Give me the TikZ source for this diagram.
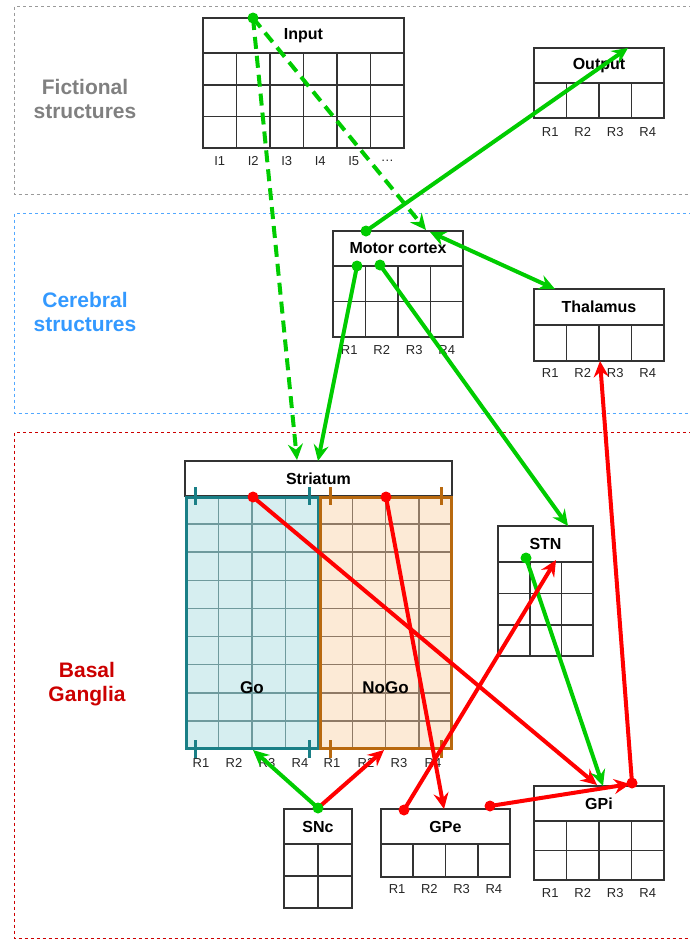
\documentclass[tikz,border=0pt]{standalone}
\usepackage{fontspec}
\setmainfont{Liberation Sans}
\usetikzlibrary{arrows.meta}
\definecolor{fgreen}{HTML}{00CC00}
\definecolor{fred}{HTML}{FF0000}
\definecolor{lgray}{HTML}{808080}
\definecolor{lblue}{HTML}{3399FF}
\definecolor{lred}{HTML}{CC0000}
\definecolor{tline}{HTML}{333333}
\definecolor{gofill}{HTML}{D6EEF0}
\definecolor{goline}{HTML}{1A7F86}
\definecolor{gogrid}{HTML}{6F9A9D}
\definecolor{nogofill}{HTML}{FCEAD6}
\definecolor{nogoline}{HTML}{B8690F}
\definecolor{nogogrid}{HTML}{8F7A66}
\tikzset{
  hdr/.style={draw=tline, line width=1.6pt, inner sep=0pt, outer sep=0pt, font=\fontsize{16}{19}\selectfont\bfseries},
  tabline/.style={draw=tline, line width=1.6pt},
  lab/.style={inner sep=0pt, font=\fontsize{13}{15}\selectfont, text=black!85},
  framelab/.style={inner sep=0pt, align=center, font=\fontsize{21}{24}\selectfont\bfseries},
  tip/.tip={Stealth[length=16pt,width=15pt,inset=5.5pt]},
  conn/.style={line width=4pt, -tip},
  dconn/.style={conn, dash pattern=on 12pt off 7pt},
  dotg/.style={circle, fill=fgreen, inner sep=0pt, minimum size=11pt},
  dotr/.style={circle, fill=fred, inner sep=0pt, minimum size=11pt},
}
\begin{document}
\begin{tikzpicture}[x=1pt,y=-1pt]
\useasboundingbox (0,0) rectangle (689,940);
% frames
\draw[lgray!80, line width=1pt, dash pattern=on 3pt off 3pt] (14.5,6.5) rectangle (705,194.5);
\draw[lblue!85, line width=1pt, dash pattern=on 3pt off 3pt] (14.5,213.5) rectangle (705,413.5);
\draw[lred, line width=1pt, dash pattern=on 3pt off 3pt] (14.5,432.5) rectangle (705,938.5);
\node[framelab, text=lgray] (fict) at (85,99) {Fictional\\structures};
\node[framelab, text=lblue] (cereb) at (85,312) {Cerebral\\structures};
\node[framelab, text=lred] (basal) at (87,684) {Basal\\Ganglia};

% Input
\node[hdr, minimum width=201pt, minimum height=35pt] (input) at (303.5,35.5) {Input};
\draw[tabline] (203,53) rectangle (404,148);
\foreach \xx in {236.5,270,303.5,337,370.5} \draw[tabline] (\xx,53) -- (\xx,148);
\foreach \yy in {84.7,116.3} \draw[tabline] (203,\yy) -- (404,\yy);
\foreach \xx [count=\i] in {219.75,253.25,286.75,320.25,353.75}
  \node[lab] (inl\i) at (\xx,161) {I\i};
\node[lab] (inl6) at (387.25,161) {\ldots};

% Output
\node[hdr, minimum width=130pt, minimum height=35pt] (output) at (599,65.5) {Output};
\draw[tabline] (534,83) rectangle (664,118);
\foreach \xx in {566.5,599,631.5} \draw[tabline] (\xx,83) -- (\xx,118);
\foreach \xx [count=\i] in {550.25,582.75,615.25,647.75} \node[lab] (outl\i) at (\xx,132) {R\i};

% Motor cortex
\node[hdr, minimum width=130pt, minimum height=35pt] (motor) at (398,248.5) {Motor cortex};
\draw[tabline] (333,266) rectangle (463,337);
\foreach \xx in {365.5,398,430.5} \draw[tabline] (\xx,266) -- (\xx,337);
\draw[tabline] (333,301.5) -- (463,301.5);
\foreach \xx [count=\i] in {349.25,381.75,414.25,446.75} \node[lab] (mcl\i) at (\xx,350) {R\i};

% Thalamus
\node[hdr, minimum width=130pt, minimum height=36pt] (thal) at (599,307) {Thalamus};
\draw[tabline] (534,325) rectangle (664,361);
\foreach \xx in {566.5,599,631.5} \draw[tabline] (\xx,325) -- (\xx,361);
\foreach \xx [count=\i] in {550.25,582.75,615.25,647.75} \node[lab] (thl\i) at (\xx,373) {R\i};

% Striatum
\node[hdr, minimum width=267pt, minimum height=35pt] (striatum) at (318.5,478.5) {Striatum};
\fill[gofill] (185,496) rectangle (319,749);
\fill[nogofill] (319,496) rectangle (452,749);
\foreach \k in {1,...,8} {
  \draw[gogrid, line width=1.5pt] (185,496+28.11*\k) -- (319,496+28.11*\k);
  \draw[nogogrid, line width=1.5pt] (319,496+28.11*\k) -- (452,496+28.11*\k);
}
\foreach \xx in {218.5,252,285.5} \draw[gogrid, line width=1.5pt] (\xx,496) -- (\xx,749);
\foreach \xx in {352.25,385.5,418.75} \draw[nogogrid, line width=1.5pt] (\xx,496) -- (\xx,749);
\draw[goline, line width=3pt] (186,497) rectangle (318,748);
\draw[nogoline, line width=3pt] (320,497) rectangle (451,748);
\foreach \xx in {195,309} {
  \draw[goline, line width=3pt] (\xx,487) -- (\xx,505);
  \draw[goline, line width=3pt] (\xx,740) -- (\xx,758);
}
\foreach \xx in {330,441} {
  \draw[nogoline, line width=3pt] (\xx,487) -- (\xx,505);
  \draw[nogoline, line width=3pt] (\xx,740) -- (\xx,758);
}
\node[inner sep=0pt, font=\fontsize{17}{20}\selectfont\bfseries] (go) at (252,688) {Go};
\node[inner sep=0pt, font=\fontsize{17}{20}\selectfont\bfseries] (nogo) at (385.5,688) {NoGo};
\foreach \xx [count=\i] in {201,234,267,300} \node[lab] (gol\i) at (\xx,763) {R\i};
\foreach \xx [count=\i] in {332,366,399,433} \node[lab] (nogol\i) at (\xx,763) {R\i};

% STN
\node[hdr, minimum width=95pt, minimum height=36pt] (stn) at (545.5,544) {STN};
\draw[tabline] (498,562) rectangle (593,656);
\foreach \xx in {529.7,561.3} \draw[tabline] (\xx,562) -- (\xx,656);
\foreach \yy in {593.3,624.7} \draw[tabline] (498,\yy) -- (593,\yy);

% SNc
\node[hdr, minimum width=68pt, minimum height=35pt] (snc) at (318,826.5) {SNc};
\draw[tabline] (284,844) rectangle (352,908);
\draw[tabline] (318,844) -- (318,908);
\draw[tabline] (284,876) -- (352,876);

% GPe
\node[hdr, minimum width=129pt, minimum height=35pt] (gpe) at (445.5,826.5) {GPe};
\draw[tabline] (381,844) rectangle (510,877);
\foreach \xx in {413.25,445.5,477.75} \draw[tabline] (\xx,844) -- (\xx,877);
\foreach \xx [count=\i] in {397.1,429.4,461.6,493.9} \node[lab] (gpel\i) at (\xx,889) {R\i};

% GPi
\node[hdr, minimum width=130pt, minimum height=35pt] (gpi) at (599,803.5) {GPi};
\draw[tabline] (534,821) rectangle (664,880);
\foreach \xx in {566.5,599,631.5} \draw[tabline] (\xx,821) -- (\xx,880);
\draw[tabline] (534,850.5) -- (664,850.5);
\foreach \xx [count=\i] in {550.25,582.75,615.25,647.75} \node[lab] (gpil\i) at (\xx,893) {R\i};

% connection points
\coordinate (inA) at (253,18);
\coordinate (striIn1) at (297,460);
\coordinate (striIn2) at (318,461);
\coordinate (mcIn) at (426,230);
\coordinate (mcOut) at (366,231);
\coordinate (outIn) at (628,48);
\coordinate (mcR1) at (357,266);
\coordinate (mcR2) at (380,265);
\coordinate (stnIn) at (568,526);
\coordinate (mcThA) at (430,232);
\coordinate (thIn) at (555,289);
\coordinate (goOut) at (253,497);
\coordinate (gpiIn1) at (597,785);
\coordinate (nogoOut) at (386,497);
\coordinate (gpeIn) at (444,809);
\coordinate (stnOut) at (526,558);
\coordinate (gpiIn2) at (603,786);
\coordinate (gpiOut) at (632,783);
\coordinate (thIn2) at (600,361);
\coordinate (gpeOut1) at (490,806);
\coordinate (gpiIn3) at (630,784);
\coordinate (gpeOut2) at (404,810);
\coordinate (stnIn2) at (556,560);
\coordinate (sncOut) at (318,808);
\coordinate (goIn) at (253,750);
\coordinate (nogoIn) at (384,750);

% connectors
\draw[dconn, fgreen] (inA) -- (striIn1);
\draw[dconn, fgreen] (inA) -- (mcIn);
\draw[conn, fgreen] (mcOut) -- (outIn);
\draw[conn, fgreen] (mcR1) -- (striIn2);
\draw[conn, fgreen] (mcR2) -- (stnIn);
\draw[conn, fgreen, tip-tip] (mcThA) -- (thIn);
\draw[conn, fred] (goOut) -- (gpiIn1);
\draw[conn, fred] (nogoOut) -- (gpeIn);
\draw[conn, fgreen] (stnOut) -- (gpiIn2);
\draw[conn, fred] (gpiOut) -- (thIn2);
\draw[conn, fred] (gpeOut1) -- (gpiIn3);
\draw[conn, fred] (gpeOut2) -- (stnIn2);
\draw[conn, fred] (sncOut) -- (nogoIn);
\draw[conn, fgreen] (sncOut) -- (goIn);

% dots
\node[dotg] (dInA) at (inA) {};
\node[dotg] (dMcOut) at (mcOut) {};
\node[dotg] (dMcR1) at (mcR1) {};
\node[dotg] (dMcR2) at (mcR2) {};
\node[dotr] (dGoOut) at (goOut) {};
\node[dotr] (dNogoOut) at (nogoOut) {};
\node[dotg] (dStnOut) at (stnOut) {};
\node[dotr] (dGpiOut) at (gpiOut) {};
\node[dotr] (dGpeOut1) at (gpeOut1) {};
\node[dotr] (dGpeOut2) at (gpeOut2) {};
\node[dotg] (dSncOut) at (sncOut) {};
\end{tikzpicture}
\end{document}
